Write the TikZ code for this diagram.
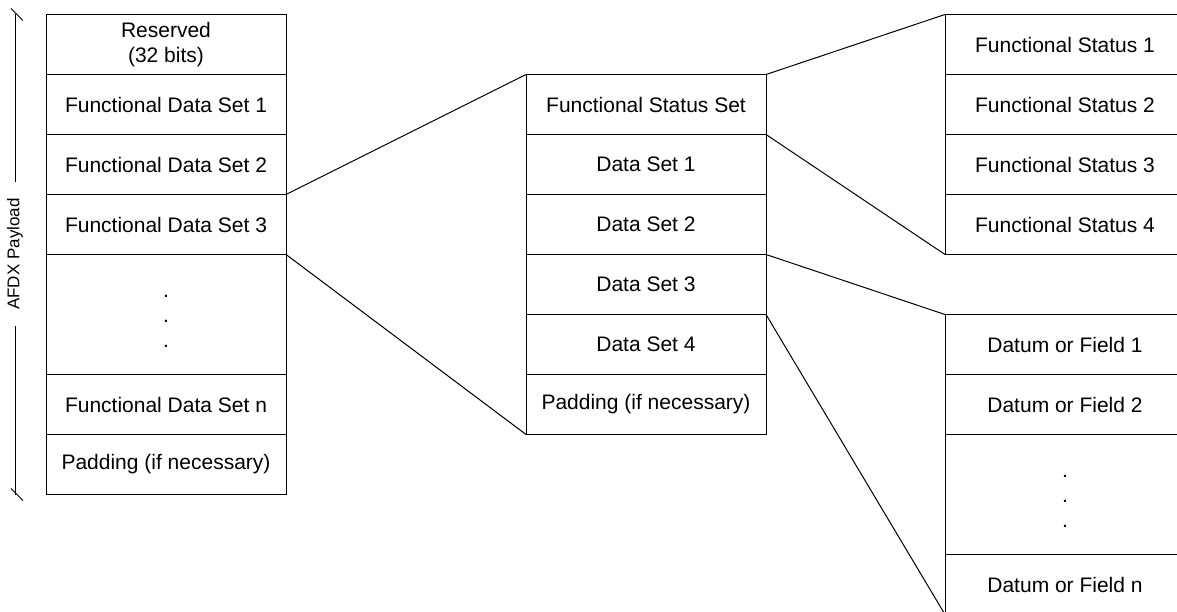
\documentclass[tikz,border=0pt]{standalone}
\usepackage{fontspec}
\setmainfont{Liberation Sans}
\usetikzlibrary{positioning}
\begin{document}
\begin{tikzpicture}[x=1pt,y=-1pt,
    field/.style={draw,line width=1pt,minimum width=240pt,minimum height=60pt,
      inner sep=0pt,outer sep=0pt,align=center,font=\fontsize{21}{25}\selectfont},
    gapfield/.style={field,minimum height=120pt},
    link/.style={line width=1pt}]
  \useasboundingbox (0,0) rectangle (1177,612);
  \clip (0,0) rectangle (1177,612);
  % AFDX payload
  \node[field,anchor=north west] (res) at (46,14.5) {Reserved\\(32 bits)};
  \node[field,below=0pt of res] (fds1) {Functional Data Set 1};
  \node[field,below=0pt of fds1] (fds2) {Functional Data Set 2};
  \node[field,below=0pt of fds2] (fds3) {Functional Data Set 3};
  \node[gapfield,below=0pt of fds3] (fdsdots) {\rule{0pt}{16pt}.\\.\\.};
  \node[field,below=0pt of fdsdots] (fdsn) {Functional Data Set n};
  \node[field,below=0pt of fdsn] (pad1) {Padding (if necessary)};
  % functional data set
  \node[field,anchor=north west] (fss) at (526,74.5) {Functional Status Set};
  \node[field,below=0pt of fss] (ds1) {Data Set 1};
  \node[field,below=0pt of ds1] (ds2) {Data Set 2};
  \node[field,below=0pt of ds2] (ds3) {Data Set 3};
  \node[field,below=0pt of ds3] (ds4) {Data Set 4};
  \node[field,below=0pt of ds4] (pad2) {Padding (if necessary)};
  % status set
  \node[field,anchor=north west] (fs1) at (945,14.5) {Functional Status 1};
  \node[field,below=0pt of fs1] (fs2) {Functional Status 2};
  \node[field,below=0pt of fs2] (fs3) {Functional Status 3};
  \node[field,below=0pt of fs3] (fs4) {Functional Status 4};
  % data set
  \node[field,anchor=north west] (df1) at (945,314.5) {Datum or Field 1};
  \node[field,below=0pt of df1] (df2) {Datum or Field 2};
  \node[gapfield,below=0pt of df2] (dfdots) {\rule{0pt}{16pt}.\\.\\.};
  \node[field,below=0pt of dfdots] (dfn) {Datum or Field n};
  % payload extent
  \coordinate (ptop) at (15,14.5);
  \coordinate (pbot) at (15,494.5);
  \node[rotate=90,inner sep=16pt,font=\fontsize{17}{20}\selectfont] (axis) at (15,254) {AFDX Payload};
  \draw[link] (ptop) -- (axis.east);
  \draw[link] (axis.west) -- (pbot);
  \draw[link] (ptop) +(-4,-6) -- +(8,6);
  \draw[link] (pbot) +(-4,-6) -- +(8,6);
  \draw[link] (fds3.north east) -- (fss.north west);
  \draw[link] (fds3.south east) -- (pad2.south west);
  \draw[link] (fss.north east) -- (fs1.north west);
  \draw[link] (ds1.north east) -- (fs4.south west);
  \draw[link] (ds3.north east) -- (df1.north west);
  \draw[link] (ds4.north east) -- (dfn.south west);
\end{tikzpicture}
\end{document}
